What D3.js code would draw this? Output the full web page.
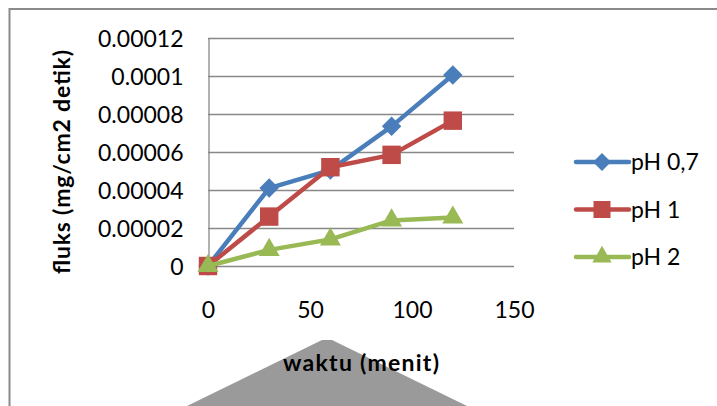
<!DOCTYPE html>
<html>
<head>
<meta charset="utf-8">
<script src="https://cdn.jsdelivr.net/npm/d3@7"></script>
<style>
  html, body { margin: 0; padding: 0; background: #fff; }
  svg { display: block; }
  text { font-family: Lato, "Open Sans", sans-serif; fill: #000; }
</style>
</head>
<body>
<svg id="chart" width="717" height="406"></svg>
<script>
// Time points (menit)
const waktu = [0, 30, 60, 90, 120];

// Flux per series (mg/cm2 detik)
const ph07 = [0, 0.0000410, 0.0000505, 0.0000735, 0.0001005];
const ph1  = [0, 0.0000260, 0.0000520, 0.0000585, 0.0000765];
const ph2  = [0, 0.0000085, 0.0000140, 0.0000240, 0.0000255];

const seriesNames = ["pH 0,7", "pH 1", "pH 2"];
const seriesColors = ["#4a7ebb", "#be4b48", "#98b954"];

const yTicks = [0, 0.00002, 0.00004, 0.00006, 0.00008, 0.0001, 0.00012];
const yTickLabels = ["0", "0.00002", "0.00004", "0.00006", "0.00008", "0.0001", "0.00012"];
const xTicks = [0, 50, 100, 150];
const xTickLabels = ["0", "50", "100", "150"];

// Marker shapes: diamond (rotated square), square, triangle
const markers = [
  { type: d3.symbolSquare, size: 190, rotate: 45 },
  { type: d3.symbolSquare, size: 340, rotate: 0 },
  { type: d3.symbolTriangle, size: 190, rotate: 0 }
];

const svg = d3.select("#chart");
const plot = { left: 208, right: 514, top: 38, bottom: 266 };

const x = d3.scaleLinear().domain([0, 150]).range([plot.left, plot.right]);
const y = d3.scaleLinear().domain([0, 0.00012]).range([plot.bottom, plot.top]);

// Outer chart frame (top and left edges visible)
svg.append("path")
  .attr("d", "M9.5,406 L9.5,9 L717,9")
  .attr("fill", "none")
  .attr("stroke", "#8a8a8a")
  .attr("stroke-width", 2);

// Grey stamp behind the x-axis title
svg.append("path")
  .attr("d", "M187,406 L322,340 L332,340 L467,406 Z")
  .attr("fill", "#9a9a9a");

// Horizontal gridlines
svg.append("g")
  .selectAll("line")
  .data(yTicks)
  .join("line")
  .attr("x1", plot.left)
  .attr("x2", plot.right)
  .attr("y1", d => Math.round(y(d)) + 0.5)
  .attr("y2", d => Math.round(y(d)) + 0.5)
  .attr("stroke", "#888")
  .attr("stroke-width", 1.3);

// Y axis
const yAxis = svg.append("g")
  .attr("transform", `translate(${plot.left + 0.5},0)`)
  .call(d3.axisLeft(y).tickValues(yTicks)
    .tickFormat((d, i) => yTickLabels[i]).tickSize(0).tickPadding(25));
yAxis.select(".domain").attr("stroke", "#888").attr("stroke-width", 1.3);
yAxis.selectAll("text")
  .style("font-family", "Lato, 'Open Sans', sans-serif")
  .style("font-size", "23px")
  .attr("dy", "0.36em");

// X axis (labels only; the baseline is the zero gridline)
const xAxis = svg.append("g")
  .attr("transform", `translate(0,${plot.bottom})`)
  .call(d3.axisBottom(x).tickValues(xTicks)
    .tickFormat((d, i) => xTickLabels[i]).tickSize(0).tickPadding(36));
xAxis.select(".domain").remove();
xAxis.selectAll("text")
  .style("font-family", "Lato, 'Open Sans', sans-serif")
  .style("font-size", "23px");

// Series lines and markers
const allSeries = [ph07, ph1, ph2];
const line = d3.line().x((d, i) => x(waktu[i])).y(d => y(d));

function markerPath(m) {
  return d3.symbol().type(m.type).size(m.size)();
}

allSeries.forEach((vals, s) => {
  const g = svg.append("g");
  g.append("path")
    .datum(vals)
    .attr("d", line)
    .attr("fill", "none")
    .attr("stroke", seriesColors[s])
    .attr("stroke-width", 4.5)
    .attr("stroke-linejoin", "round");
  g.selectAll("path.m")
    .data(vals)
    .join("path")
    .attr("class", "m")
    .attr("transform", (d, i) =>
      `translate(${x(waktu[i])},${y(d)}) rotate(${markers[s].rotate})`)
    .attr("d", markerPath(markers[s]))
    .attr("fill", seriesColors[s]);
});

// Legend
const legend = svg.append("g");
seriesNames.forEach((name, i) => {
  const cy = 162 + i * 47.5;
  legend.append("line")
    .attr("x1", 576).attr("x2", 629)
    .attr("y1", cy).attr("y2", cy)
    .attr("stroke", seriesColors[i])
    .attr("stroke-width", 4.5)
    .attr("stroke-linecap", "round");
  legend.append("path")
    .attr("transform", `translate(602,${cy}) rotate(${markers[i].rotate})`)
    .attr("d", markerPath({ type: markers[i].type, size: markers[i].size * 0.85 }))
    .attr("fill", seriesColors[i]);
  legend.append("text")
    .attr("x", 631)
    .attr("y", cy)
    .attr("dy", "0.36em")
    .style("font-size", "23px")
    .text(name);
});

// Axis titles
svg.append("text")
  .attr("transform", "translate(70,162) rotate(-90)")
  .attr("text-anchor", "middle")
  .style("font-size", "23px")
  .style("font-weight", "bold")
  .attr("textLength", 224)
  .text("fluks (mg/cm2 detik)");

svg.append("text")
  .attr("x", 361)
  .attr("y", 371)
  .attr("text-anchor", "middle")
  .style("font-size", "23px")
  .style("font-weight", "bold")
  .attr("textLength", 156)
  .text("waktu (menit)");
</script>
</body>
</html>
